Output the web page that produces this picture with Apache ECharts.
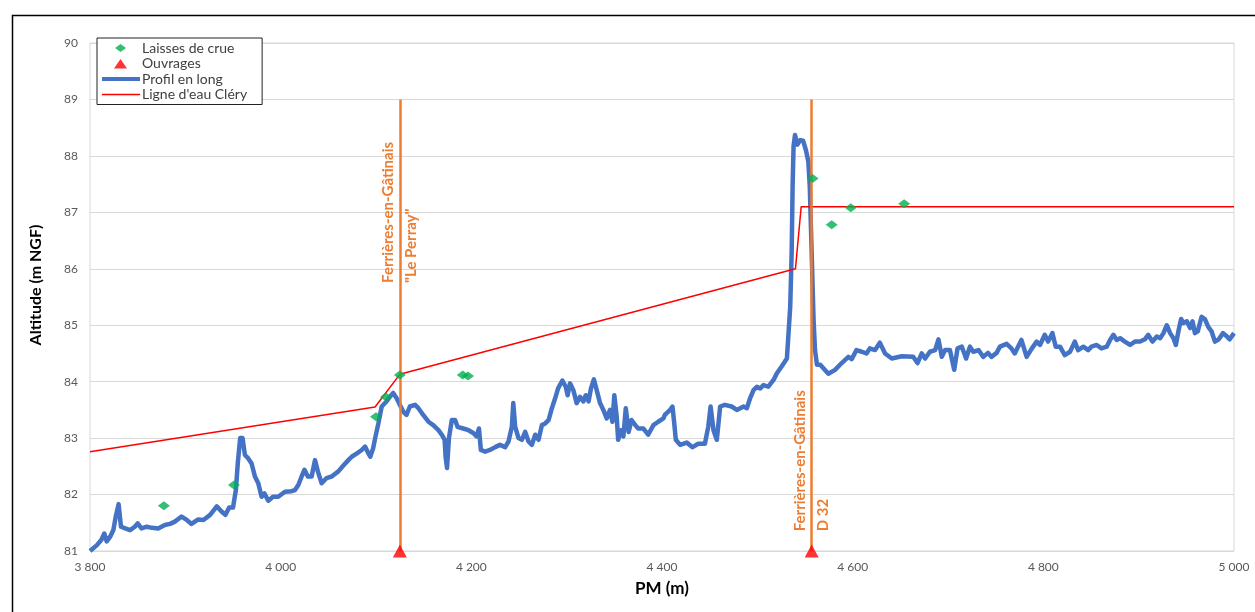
<!DOCTYPE html>
<html>
<head>
<meta charset="utf-8">
<script src="https://cdn.jsdelivr.net/npm/echarts@6/dist/echarts.min.js"></script>
<style>html,body{margin:0;padding:0;background:#fff;}#c{width:1255px;height:612px;}</style>
</head>
<body>
<div id="c"></div>
<script>
// ---- data ----
const xTicks = [3800, 4000, 4200, 4400, 4600, 4800, 5000];
const yTicks = [81, 82, 83, 84, 85, 86, 87, 88, 89, 90];

const laissesDeCrue = [[3877.5,81.8],[3951,82.17],[4100,83.38],[4110.5,83.73],[4125,84.12],[4191,84.12],[4196.5,84.1],[4558,87.6],[4578,86.78],[4598,87.08],[4654,87.15]];
const ouvrages = [[4125,81],[4557,81]];
const ouvragesNoms = ['Ferrières-en-Gâtinais\n"Le Perray"', 'Ferrières-en-Gâtinais\nD 32'];
const ouvragesLabelAlt = [85.75, 81.35];
const ouvragesTopAlt = 89;

const ligneEauClery = [[3800,82.76],[4099,83.55],[4125,84.13],[4540,86.0],[4546,87.1],[5000,87.1]];

const profilAmont = [[3800,81.0],[3802,81.02],[3807,81.1],[3812,81.2],[3815,81.31],[3817.5,81.17],[3821,81.25],[3824.5,81.37],[3827,81.61],[3830,81.83],[3832.5,81.43],[3837,81.4],[3842,81.37],[3847,81.43],[3850,81.49],[3854,81.4],[3859.5,81.43],[3865,81.41],[3871.5,81.4],[3878.5,81.46],[3884,81.48],[3889,81.52],[3896,81.61],[3901.5,81.55],[3906.5,81.48],[3913.5,81.56],[3919,81.55],[3926,81.64],[3933,81.79],[3938,81.7],[3942,81.64],[3946,81.77],[3950,81.77],[3953,82.08],[3955,82.55],[3957.5,83.0],[3960,83.0],[3962.5,82.7],[3966,82.64],[3969.5,82.55],[3973,82.32],[3976.5,82.2],[3980,81.96],[3983,82.02],[3987,81.89],[3992,81.96],[3997.5,81.96],[4004.5,82.05],[4011.5,82.06],[4015,82.08],[4018.5,82.17],[4022,82.32],[4025,82.44],[4028.5,82.32],[4032.5,82.32],[4036,82.61],[4039,82.41],[4043,82.2],[4048,82.29],[4053.5,82.32],[4060.5,82.41],[4066,82.52],[4071,82.61],[4074.5,82.67],[4080,82.73],[4085,82.79],[4088.5,82.85],[4092,82.73],[4094,82.67],[4097,82.82],[4099.5,83.03],[4102.5,83.26],[4106,83.56]];
const profilMilieu = [[4111,83.65],[4114.5,83.73],[4118,83.8],[4121.5,83.71],[4125,83.59],[4128.5,83.47],[4132,83.41],[4135.5,83.56],[4141,83.59],[4144.5,83.53],[4149.5,83.41],[4155,83.29],[4160,83.23],[4165.5,83.14],[4169,83.06],[4172,82.97],[4173,82.67],[4174.5,82.47],[4176.5,83.0],[4179.5,83.32],[4183,83.32],[4185.5,83.2],[4191.5,83.17],[4197,83.14],[4202,83.09],[4205.5,83.03],[4208,83.17],[4210,82.79],[4214.5,82.76],[4219.5,82.79],[4225,82.84],[4230,82.88],[4235.5,82.84],[4239,82.94],[4242.5,83.2],[4244,83.62],[4246,83.2],[4249.5,83.0],[4253,82.97],[4256.5,83.11],[4260,82.94],[4263.5,82.88],[4267,83.06],[4270.5,82.97],[4274,83.23],[4277.5,83.26],[4281,83.32],[4284.5,83.53],[4288,83.71],[4291,83.88],[4295.5,84.02],[4299,83.91],[4301,83.76],[4303.5,83.97],[4307,83.85],[4310.5,83.62],[4314,83.73],[4317.5,83.65],[4320,83.76],[4323,83.65],[4325.5,83.88],[4328.5,84.04],[4331.5,83.85],[4335,83.62],[4338.5,83.5],[4342,83.35],[4345.5,83.5],[4348,83.29],[4350,83.76],[4352.5,83.38],[4354,82.97],[4357,83.14],[4359.5,83.03],[4362,83.53],[4365,83.11],[4368,83.32],[4372,83.23],[4375,83.17],[4380.5,83.17],[4385.5,83.06],[4391,83.23],[4396,83.29],[4401.5,83.35]];
const profilPont = [[4403,83.41],[4408.5,83.5],[4411,83.56],[4412.5,83.32],[4414.5,82.97],[4419,82.88],[4426,82.92],[4432,82.84],[4438,82.9],[4445,82.9],[4448.5,83.2],[4451,83.56],[4454,83.14],[4457.5,82.97],[4459,82.94],[4461,83.56],[4466,83.59],[4473,83.56],[4478.5,83.5],[4485.5,83.56],[4489,83.53],[4492.5,83.71],[4496,83.85],[4499.5,83.91],[4503,83.88],[4506.5,83.94],[4511.5,83.91],[4517,84.03],[4520.5,84.15],[4525.5,84.27],[4531,84.41],[4532.5,84.8],[4534.5,85.33],[4536,86.28],[4537,87.46],[4538,88.17],[4539.5,88.37],[4542,88.2],[4545,88.28],[4548,88.27],[4551,88.1],[4553.5,87.9],[4555,87.46],[4557,86.28],[4559,85.09],[4560.5,84.56],[4562.5,84.3]];
const profilAval = [[4566,84.3],[4574.5,84.14],[4581.5,84.21],[4588.5,84.33],[4595.5,84.44],[4599,84.4],[4604,84.56],[4609.5,84.53],[4614.5,84.5],[4618,84.59],[4623.5,84.56],[4628.5,84.69],[4634,84.5],[4641,84.41],[4651.5,84.45],[4663.5,84.44],[4668,84.33],[4672.5,84.5],[4676,84.41],[4681,84.53],[4686.5,84.56],[4690,84.75],[4693.5,84.44],[4697,84.56],[4702,84.56],[4706.5,84.21],[4710,84.59],[4714.5,84.62],[4719,84.41],[4723,84.62],[4726.5,84.53],[4732,84.56],[4737,84.44],[4742,84.51],[4745.5,84.44],[4751,84.51],[4754.5,84.62],[4761.5,84.67],[4766.5,84.59],[4770,84.5],[4777,84.74],[4782.5,84.44],[4788,84.59],[4793,84.71],[4796.5,84.65],[4801.5,84.83],[4805,84.71],[4809.5,84.86],[4813,84.62],[4817.5,84.62],[4822.5,84.47],[4828,84.53],[4833,84.71],[4836.5,84.56],[4842,84.62],[4847,84.56],[4850.5,84.62],[4856,84.65],[4861,84.59],[4866.5,84.62],[4870,84.74],[4873.5,84.83],[4877,84.74],[4880.5,84.77],[4885.5,84.71],[4891,84.65],[4896,84.71],[4901.5,84.71],[4906.5,84.75],[4910,84.83],[4914.5,84.71],[4919,84.8],[4922.5,84.77],[4926,84.86],[4929.5,85.0],[4933,84.86],[4936.5,84.77],[4939,84.65],[4942,84.92],[4944.5,85.11],[4947,85.04],[4950.5,85.07],[4954,84.95],[4956.5,85.07],[4959,84.86],[4962,84.89],[4966,85.15],[4969.5,85.11],[4973,84.97],[4976.5,84.89],[4980,84.71],[4984,84.75],[4988.5,84.86],[4992,84.81],[4995.5,84.75],[5000,84.86]];
const profilEnLong = profilAmont.concat(profilMilieu, profilPont, profilAval);

// ---- chart ----
const FONT = 'Lato, "Open Sans", sans-serif';
const ORANGE = '#ED7D31';
const chart = echarts.init(document.getElementById('c'), null, {renderer: 'canvas'});
const fmt = v => String(v).replace(/\B(?=(\d{3})+(?!\d))/g, ' ');
// legend icons drawn inside a fixed 38x10 box so shapes keep their proportions
const BOX = 'M0,0L0,0M38,10L38,10';
const ICON = {
  diamond: 'path://' + BOX + 'M13,5L18.5,1L24,5L18.5,9Z',
  triangle: 'path://' + BOX + 'M12,10L18.5,0.5L25,10Z',
  thick: 'path://' + BOX + 'M0,3L38,3L38,7L0,7Z',
  thin: 'path://' + BOX + 'M0,4.3L38,4.3L38,5.7L0,5.7Z'
};

chart.setOption({
  animation: false,
  backgroundColor: '#fff',
  grid: {left: 90, right: 21, top: 43, bottom: 61, show: true, borderColor: '#d9d9d9', borderWidth: 1},
  legend: {
    orient: 'vertical', left: 97, top: 38,
    padding: [3, 15, 3, 5], itemGap: 1.5, itemWidth: 38, itemHeight: 10,
    backgroundColor: '#fff', borderColor: '#222', borderWidth: 1,
    textStyle: {fontFamily: FONT, fontSize: 14, color: '#404040', lineHeight: 14, padding: [0, 0, 0, -3]},
    data: [
      {name: 'Laisses de crue', icon: ICON.diamond},
      {name: 'Ouvrages', icon: ICON.triangle},
      {name: 'Profil en long', icon: ICON.thick},
      {name: "Ligne d'eau Cléry", icon: ICON.thin}
    ]
  },
  xAxis: {
    type: 'value', min: xTicks[0], max: xTicks[xTicks.length - 1], interval: 200,
    name: 'PM (m)', nameLocation: 'middle', nameGap: 29,
    nameTextStyle: {fontFamily: FONT, fontSize: 17, fontWeight: 'bold', color: '#000'},
    axisLine: {show: false}, axisTick: {show: false}, splitLine: {show: false},
    axisLabel: {fontFamily: FONT, fontSize: 12, color: '#595959', margin: 10, formatter: fmt}
  },
  yAxis: {
    type: 'value', min: yTicks[0], max: yTicks[yTicks.length - 1], interval: 1,
    axisLine: {show: false}, axisTick: {show: false},
    splitLine: {lineStyle: {color: '#d9d9d9', width: 1}},
    axisLabel: {fontFamily: FONT, fontSize: 12, color: '#595959', margin: 12}
  },
  series: [
    {
      name: 'Profil en long', type: 'line', data: profilEnLong, symbol: 'none', z: 2,
      lineStyle: {color: '#4472C4', width: 4.5, join: 'round'}, itemStyle: {color: '#4472C4'}
    },
    {
      name: "Ligne d'eau Cléry", type: 'line', data: ligneEauClery, symbol: 'none', z: 3,
      lineStyle: {color: '#FF0000', width: 1.5}, itemStyle: {color: '#FF0000'}
    },
    {
      name: 'Ouvrages', type: 'scatter', data: ouvrages, symbol: 'triangle', symbolSize: [14, 13], z: 6,
      itemStyle: {color: '#FF0000'},
      markLine: {
        silent: true, symbol: 'none', z: 4, animation: false,
        lineStyle: {color: ORANGE, width: 2.5, type: 'solid'},
        label: {show: false},
        data: ouvrages.map(o => [{coord: [o[0], o[1]]}, {coord: [o[0], ouvragesTopAlt]}])
      }
    },
    {
      name: 'Laisses de crue', type: 'scatter', data: laissesDeCrue, symbol: 'diamond', symbolSize: [12, 9], z: 5,
      itemStyle: {color: '#00B050'}
    }
  ]
});

function placeTexts() {
  const g = [
    {type: 'rect', left: 10, top: 13, shape: {width: 1260, height: 620}, style: {fill: 'none', stroke: '#000', lineWidth: 1.5}, silent: true, z: 0},
    {type: 'text', x: 36, y: 285, rotation: Math.PI / 2, style: {text: 'Altitude (m NGF)', fontFamily: FONT, fontSize: 16, fontWeight: 'bold', fill: '#000', align: 'center', verticalAlign: 'middle'}, z: 10}
  ];
  ouvrages.forEach((o, i) => {
    const p = chart.convertToPixel({gridIndex: 0}, [o[0], ouvragesLabelAlt[i]]);
    g.push({type: 'text', x: p[0], y: p[1], rotation: Math.PI / 2, z: 10,
      style: {text: ouvragesNoms[i], fontFamily: FONT, fontSize: 15, fontWeight: 'bold', fill: ORANGE, align: 'left', verticalAlign: 'middle', lineHeight: 23}});
  });
  chart.setOption({graphic: g});
}
placeTexts();
</script>
</body>
</html>
